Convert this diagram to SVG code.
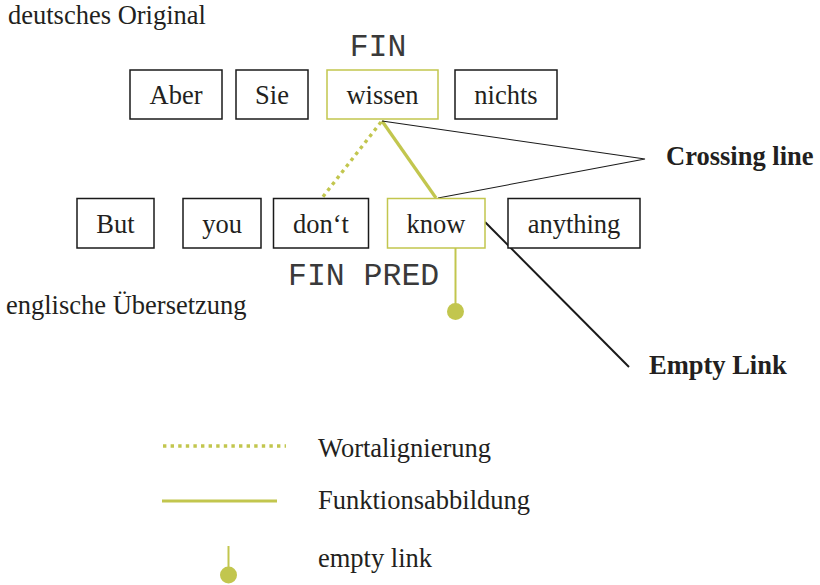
<svg xmlns="http://www.w3.org/2000/svg" width="820" height="585" viewBox="0 0 820 585">
<style>
.box{fill:#fff;stroke:#1a1a1a;stroke-width:1.5}
.gbox{fill:#fff;stroke:#c2c64e;stroke-width:1.5}
.t{font-family:"Liberation Serif","Times New Roman",serif;font-size:26.5px;fill:#231f20}
.c{text-anchor:middle}
.b{font-weight:bold}
.m{font-family:"Liberation Mono","Courier New",monospace;font-size:31.5px;fill:#3a3a3a}
.dot{stroke:#c2c64e;stroke-width:3.4;stroke-dasharray:3.4 4.2;fill:none}
.sol{stroke:#c2c64e;stroke-width:3.2;fill:none}
.thin{stroke:#c2c64e;stroke-width:2;fill:none}
.gc{fill:#c2c64e}
</style>
<rect width="820" height="585" fill="#fff"/>
<text class="t" x="8" y="24">deutsches Original</text>
<text class="t" x="6" y="314">englische Übersetzung</text>
<text class="m c" x="378" y="56">FIN</text>
<text class="m" x="288" y="285">FIN PRED</text>
<g id="connectors">
<line class="dot" x1="381" y1="122" x2="322" y2="198"/>
<line class="sol" x1="382" y1="121" x2="436" y2="198"/>
<polyline points="382,121 645,159 438,198" fill="none" stroke="#1a1a1a" stroke-width="1.1"/>
<line x1="485" y1="222" x2="629" y2="367" stroke="#1a1a1a" stroke-width="2"/>
<line class="thin" x1="455.5" y1="244" x2="455.5" y2="311"/>
<circle class="gc" cx="455.5" cy="311.5" r="8.5"/>
</g>
<g id="aber"><rect class="box" x="130" y="70" width="92" height="49"/><text class="t c" x="176" y="104">Aber</text></g>
<g id="sie"><rect class="box" x="236" y="70" width="72" height="49"/><text class="t c" x="272" y="104">Sie</text></g>
<g id="wissen"><rect class="gbox" x="327" y="70" width="111" height="49"/><text class="t c" x="382.5" y="104">wissen</text></g>
<g id="nichts"><rect class="box" x="455" y="70" width="102" height="49"/><text class="t c" x="506" y="104">nichts</text></g>
<g id="but"><rect class="box" x="77" y="198.5" width="77" height="49.5"/><text class="t c" x="115.5" y="233">But</text></g>
<g id="you"><rect class="box" x="183" y="198.5" width="78" height="49.5"/><text class="t c" x="222" y="233">you</text></g>
<g id="dont"><rect class="box" x="273.5" y="198.5" width="95" height="49.5"/><text class="t c" x="321" y="233">don‘t</text></g>
<g id="know"><rect class="gbox" x="387.5" y="198.5" width="97.5" height="49.5"/><text class="t c" x="436" y="233">know</text></g>
<g id="anything"><rect class="box" x="508" y="198.5" width="132" height="49.5"/><text class="t c" x="574" y="233">anything</text></g>
<text class="t b" x="666" y="165">Crossing line</text>
<text class="t b" x="649" y="374">Empty Link</text>
<g id="legend">
<line class="dot" x1="163" y1="446" x2="286" y2="446"/>
<text class="t" x="318" y="457">Wortalignierung</text>
<line class="sol" x1="162" y1="501" x2="277" y2="501" stroke-width="3.5"/>
<text class="t" x="318" y="509">Funktionsabbildung</text>
<line class="thin" x1="228.5" y1="546" x2="228.5" y2="575"/>
<circle class="gc" cx="228.5" cy="575" r="8.5"/>
<text class="t" x="318" y="567">empty link</text>
</g>
</svg>
